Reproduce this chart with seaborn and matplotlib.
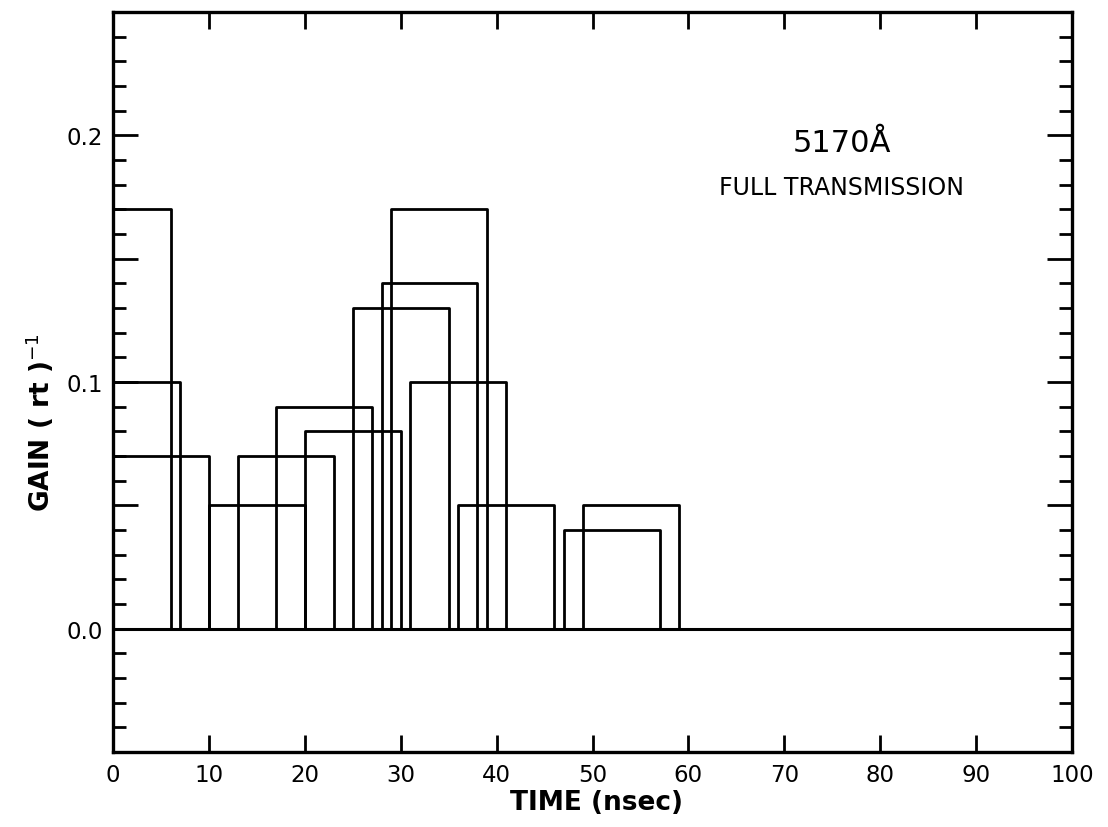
import numpy as np
import pandas as pd
import matplotlib
matplotlib.use("Agg")
import matplotlib.pyplot as plt
import seaborn as sns
from matplotlib.ticker import MultipleLocator, FixedLocator

# Data: gain windows (start, end in nsec, height)
t_start = [0, 0, 0, 10, 13, 17, 20, 25, 28, 29, 31, 36, 47, 49]
t_end = [6, 7, 10, 20, 23, 27, 30, 35, 38, 39, 41, 46, 57, 59]
gain = [0.17, 0.10, 0.07, 0.05, 0.07, 0.09, 0.08, 0.13, 0.14, 0.17, 0.10, 0.05, 0.04, 0.05]

x_ticks = [0, 10, 20, 30, 40, 50, 60, 70, 80, 90, 100]
y_labeled = [0.0, 0.1, 0.2]

sns.set_theme(style="ticks")
plt.rcParams['font.family'] = ['DejaVu Sans']
plt.rcParams['text.color'] = 'black'

# outline of each window as a path for seaborn
rows = []
for i, (s, e, h) in enumerate(zip(t_start, t_end, gain)):
    for px, py in [(s, 0), (s, h), (e, h), (e, 0)]:
        rows.append({'bar': i, 'time': px, 'gain': py})
df = pd.DataFrame(rows)

fig = plt.figure(figsize=(11.08, 8.28), dpi=100)
ax = fig.add_axes([0.102, 0.0906, 0.8655, 0.8935])

sns.lineplot(data=df, x='time', y='gain', units='bar', estimator=None,
             sort=False, color='black', lw=2.0, ax=ax, legend=False)
ax.axhline(0, color='black', lw=2.2)

ax.set_xlim(0, 100)
ax.set_ylim(-0.05, 0.25)

ax.xaxis.set_major_locator(FixedLocator(x_ticks))
ax.set_xticklabels([str(v) for v in x_ticks])
ax.yaxis.set_major_locator(MultipleLocator(0.05))
ax.yaxis.set_minor_locator(MultipleLocator(0.01))
ax.set_yticklabels([f"{v:.1f}" if any(abs(v - l) < 1e-9 for l in y_labeled) else ""
                    for v in ax.get_yticks()])

ax.tick_params(axis='both', which='both', direction='in', top=True, right=True,
               color='black', width=2.0, labelsize=16.5, labelcolor='black')
ax.tick_params(axis='y', which='major', length=18, pad=7)
ax.tick_params(axis='y', which='minor', length=9.5)
ax.tick_params(axis='x', which='major', length=12, pad=8)
ax.tick_params(axis='x', which='minor', length=0)

for sp in ax.spines.values():
    sp.set_linewidth(2.4)
    sp.set_color('black')

ax.set_xlabel('')
ax.set_ylabel('')
fig.text(0.538, 0.030, 'TIME (nsec)', ha='center', va='center',
         fontsize=19, fontweight='bold')
fig.text(0.036, 0.49, r'GAIN ( rt )$^{-1}$', ha='center', va='center',
         rotation=90, fontsize=19, fontweight='bold')

ax.text(76, 0.197, '5170Å', ha='center', va='center', fontsize=22)
ax.text(76, 0.179, 'FULL TRANSMISSION', ha='center', va='center', fontsize=17)

fig.savefig('out.png', dpi=100, facecolor='white')
